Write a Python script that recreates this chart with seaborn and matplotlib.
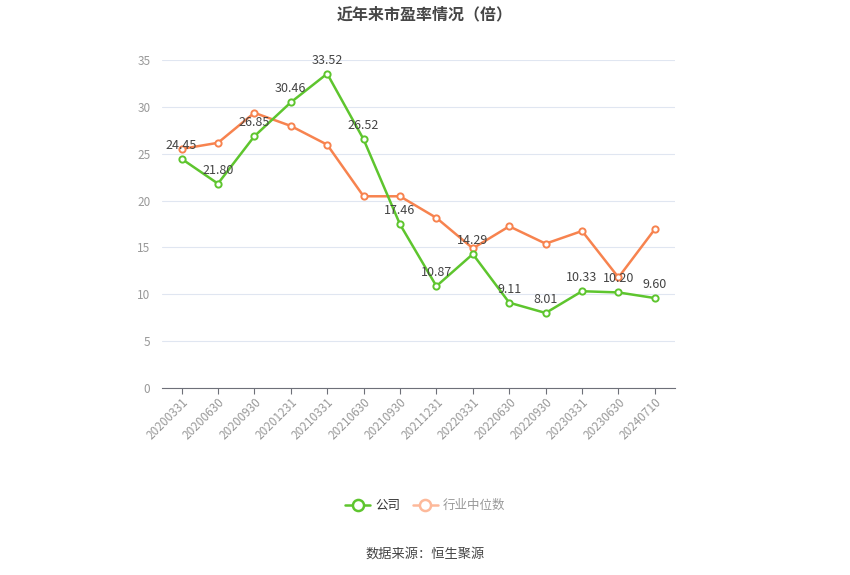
import matplotlib
matplotlib.use("Agg")
import matplotlib.pyplot as plt
import seaborn as sns
import pandas as pd
from matplotlib.lines import Line2D

sns.set_style("white")
plt.rcParams['font.family'] = ['Noto Sans CJK SC', 'DejaVu Sans']

# data
dates = ["20200331", "20200630", "20200930", "20201231", "20210331", "20210630",
         "20210930", "20211231", "20220331", "20220630", "20220930", "20230331",
         "20230630", "20240710"]
company = [24.45, 21.80, 26.85, 30.46, 33.52, 26.52, 17.46, 10.87, 14.29,
           9.11, 8.01, 10.33, 10.20, 9.60]
industry = [25.5, 26.15, 29.35, 27.95, 25.95, 20.45, 20.45, 18.15, 14.9,
            17.25, 15.4, 16.75, 11.8, 16.95]

green = "#5ec52e"
orange = "#f7834f"

df = pd.DataFrame({
    "date": dates * 2,
    "pe": company + industry,
    "series": ["公司"] * len(dates) + ["行业中位数"] * len(dates),
})

fig = plt.figure(figsize=(8.5, 5.75), dpi=100)
ax = fig.add_axes([0.19, 0.325, 0.604, 0.571])

sns.lineplot(data=df, x="date", y="pe", hue="series", sort=False,
             palette={"公司": green, "行业中位数": orange},
             hue_order=["行业中位数", "公司"],
             marker="o", markersize=4.5, markerfacecolor="white",
             markeredgewidth=1.4, linewidth=1.8, legend=False, ax=ax)

# marker edge colours follow the line colour
for line in ax.get_lines():
    line.set_markeredgecolor(line.get_color())

# value labels for the company series
for i, v in enumerate(company):
    ax.annotate(f"{v:.2f}", (i, v), xytext=(0, 5), textcoords="offset points",
                ha="center", va="bottom", fontsize=9, color="#444444")

ax.set_xlim(-0.55, len(dates) - 0.45)
ax.set_ylim(0, 35)
ax.set_yticks(range(0, 36, 5))
ax.grid(axis="y", color="#e0e6f1", linewidth=0.8)
ax.set_axisbelow(True)
for s in ["top", "right", "left"]:
    ax.spines[s].set_visible(False)
ax.spines["bottom"].set_color("#6e7079")
ax.tick_params(axis="x", bottom=True, direction="out", colors="#6e7079", length=4,
               width=0.8, labelcolor="#999999", labelsize=8.5, pad=1.5)
ax.tick_params(axis="y", left=False, length=0, labelcolor="#999999", labelsize=8.5, pad=8)
ax.set_xticks(range(len(dates)))
ax.set_xticklabels(dates, rotation=45, ha="right", rotation_mode="anchor")
ax.set_xlabel("")
ax.set_ylabel("")

fig.text(0.5, 0.975, "近年来市盈率情况（倍）", ha="center", va="center",
         fontsize=11.5, fontweight="bold", color="#464646")

handles = [
    Line2D([], [], color=green, marker="o", markersize=8, markerfacecolor="white",
           markeredgecolor=green, markeredgewidth=1.8, linewidth=1.8),
    Line2D([], [], color="#fdb99a", marker="o", markersize=8, markerfacecolor="white",
           markeredgecolor="#fdb99a", markeredgewidth=1.8, linewidth=1.8),
]
leg = fig.legend(handles, ["公司", "行业中位数"], loc="center", bbox_to_anchor=(0.5, 0.121),
                 ncol=2, frameon=False, fontsize=9, handlelength=2.0,
                 handletextpad=0.4, columnspacing=1.0)
leg.get_texts()[0].set_color("#333333")
leg.get_texts()[1].set_color("#999999")

fig.text(0.5, 0.037, "数据来源：恒生聚源", ha="center", va="center",
         fontsize=9.5, color="#444444")

fig.savefig("out.png", dpi=100)
